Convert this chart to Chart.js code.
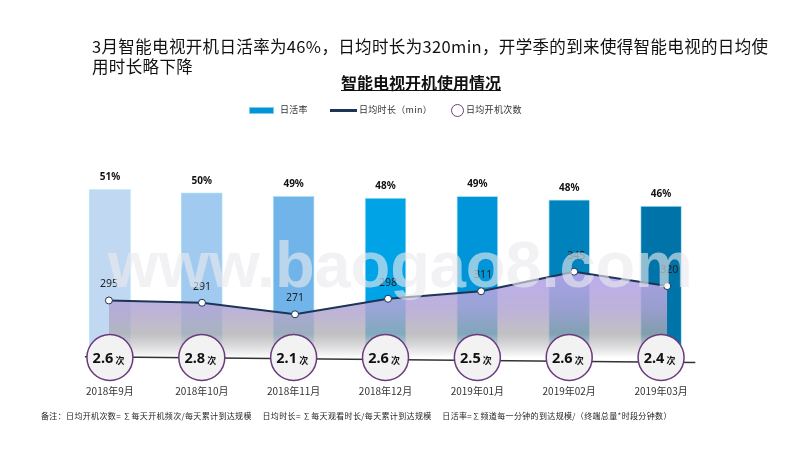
<!DOCTYPE html>
<html lang="zh">
<head>
<meta charset="utf-8">
<title>智能电视开机使用情况</title>
<script src="https://cdn.jsdelivr.net/npm/chart.js@4/dist/chart.umd.min.js"></script>
<style>
    html, body { margin: 0; padding: 0; background: #fff; }
    body { width: 800px; height: 450px; overflow: hidden; position: relative; font-family: "Noto Sans CJK SC", sans-serif; color: #111; }
    canvas { position: absolute; left: 0; top: 0; }
    .headline { position: absolute; left: 92px; top: 36px; width: 685px; font-size: 16.5px; line-height: 20px; letter-spacing: 0.35px; }
    .title { position: absolute; left: 321px; top: 71px; width: 200px; text-align: center; font-size: 16px; line-height: 22px; font-weight: 700; text-decoration: underline; }
    .legend span { position: absolute; top: 104px; font-size: 9px; line-height: 12px; color: #333; letter-spacing: 0.3px; white-space: nowrap; }
    .legend i { position: absolute; display: block; box-sizing: border-box; }
    .note { position: absolute; left: 41px; top: 410px; font-size: 8px; line-height: 11px; letter-spacing: 0.35px; color: #222; white-space: pre; }
    .mark { position: absolute; left: 108px; top: 228px; font: 700 65px "Liberation Sans", sans-serif; line-height: 74px; letter-spacing: -0.1px; color: rgba(234, 234, 238, 0.62); white-space: nowrap; }
</style>
</head>
<body>
<canvas id="tvChart" width="800" height="450"></canvas>
<div class="headline">3月智能电视开机日活率为46%，日均时长为320min，开学季的到来使得智能电视的日均使用时长略下降</div>
<div class="title">智能电视开机使用情况</div>
<div class="legend">
    <i style="left:249px;top:107px;width:25px;height:7px;background:#0095d8;border:1px solid #7fcdea"></i>
    <span style="left:280px">日活率</span>
    <i style="left:330px;top:109px;width:27px;height:3px;background:#1b3556"></i>
    <span style="left:359px">日均时长（min）</span>
    <i style="left:451px;top:104px;width:13px;height:13px;border:1.2px solid #6b3a7d;border-radius:50%"></i>
    <span style="left:466px">日均开机次数</span>
</div>
<div class="note">备注：日均开机次数= ∑每天开机频次/每天累计到达规模     日均时长= ∑每天观看时长/每天累计到达规模     日活率=∑频道每一分钟的到达规模/（终端总量*时段分钟数）</div>
<div class="mark">www.baogao8.com</div>
<script>
const months = ['2018年9月', '2018年10月', '2018年11月', '2018年12月', '2019年01月', '2019年02月', '2019年03月'];
const activeRate = [51, 50, 49, 48.4, 49, 47.9, 46];
const duration = [295, 291, 271, 298, 311, 345, 320];
const openCount = ['2.6', '2.8', '2.1', '2.6', '2.5', '2.6', '2.4'];
const barColors = ['#c0d8f1', '#a0caf0', '#70b4ea', '#00a3e6', '#0095d8', '#0082bd', '#0073a8'];

// the line in the original slide is spaced a little wider than the bars
const lineStart = -0.011;
const lineStep = 1.013;

// bubbles all sit on the bar baseline, the count is only written inside them
const bubbleLevel = [0, 0, 0, 0, 0, 0, 0];
const trackX = [-0.272, 6.373];
const trackY = [0.2, -1.5];

const labelsPlugin = {
    id: 'valueLabels',
    afterDatasetsDraw(chart) {
        const ctx = chart.ctx;
        ctx.save();
        ctx.textAlign = 'center';
        ctx.textBaseline = 'middle';

        // 日活率
        ctx.fillStyle = '#111';
        ctx.font = '700 10px "Noto Sans", sans-serif';
        chart.getDatasetMeta(0).data.forEach((bar, i) => {
            ctx.fillText(Math.round(activeRate[i]) + '%', bar.x, bar.y - 12);
        });

        // 日均时长
        ctx.fillStyle = '#222';
        ctx.font = '10.5px "Noto Sans", sans-serif';
        chart.getDatasetMeta(1).data.forEach((pt, i) => {
            ctx.fillText(duration[i], pt.x + (i > 3 ? 2 : 0), pt.y - 16);
        });

        // 开机次数
        chart.getDatasetMeta(3).data.forEach((pt, i) => {
            ctx.fillStyle = '#111';
            ctx.font = '700 14.5px "Noto Sans", sans-serif';
            ctx.fillText(openCount[i], pt.x - 7, pt.y + 1);
            ctx.font = '700 9px "Noto Sans CJK SC", sans-serif';
            ctx.fillText('次', pt.x + 10, pt.y + 3);
        });
        ctx.restore();
    }
};

new Chart(document.getElementById('tvChart'), {
    data: {
        datasets: [{
            type: 'bar',
            label: '日活率',
            data: activeRate.map((v, i) => ({ x: i, y: v })),
            backgroundColor: barColors,
            borderColor: 'rgba(150, 215, 240, 0.8)',
            borderWidth: 1,
            barThickness: 41,
            yAxisID: 'y',
            order: 4
        }, {
            type: 'line',
            label: '日均时长（min）',
            data: duration.map((v, i) => ({ x: lineStart + i * lineStep, y: v })),
            borderColor: '#1b3556',
            borderWidth: 2,
            tension: 0,
            pointRadius: 3.5,
            pointBorderWidth: 1,
            pointBackgroundColor: '#fff',
            pointBorderColor: '#1b3556',
            fill: 'start',
            backgroundColor(context) {
                const area = context.chart.chartArea;
                if (!area) return 'transparent';
                const g = context.chart.ctx.createLinearGradient(0, 272, 0, 358);
                g.addColorStop(0, 'rgba(182, 165, 238, 0.92)');
                g.addColorStop(0.45, 'rgba(178, 165, 210, 0.85)');
                g.addColorStop(0.72, 'rgba(172, 172, 176, 0.75)');
                g.addColorStop(1, 'rgba(255, 255, 255, 1)');
                return g;
            },
            yAxisID: 'y2',
            order: 3
        }, {
            type: 'line',
            label: 'track',
            data: trackX.map((v, i) => ({ x: v, y: trackY[i] })),
            borderColor: '#333',
            borderWidth: 1.5,
            pointRadius: 0,
            clip: false,
            yAxisID: 'y',
            order: 2
        }, {
            type: 'line',
            label: '日均开机次数',
            data: bubbleLevel.map((v, i) => ({ x: i, y: v })),
            showLine: false,
            pointRadius: 23,
            pointBorderWidth: 1.5,
            pointBackgroundColor: '#f2f2f3',
            pointBorderColor: '#6b3a7d',
            clip: false,
            yAxisID: 'y',
            order: 1
        }]
    },
    options: {
        responsive: false,
        animation: false,
        layout: {
            padding: { left: 64, right: 93, top: 160, bottom: 31 }
        },
        plugins: {
            legend: { display: false },
            tooltip: { enabled: false }
        },
        scales: {
            x: {
                type: 'linear',
                offset: false,
                min: -0.5,
                max: 6.5,
                grid: { display: false, drawTicks: false },
                border: { display: false },
                afterBuildTicks(axis) {
                    axis.ticks = months.map((m, i) => ({ value: i }));
                },
                ticks: {
                    color: '#333',
                    font: { size: 10, family: '"Noto Sans CJK SC", sans-serif' },
                    padding: 22,
                    maxRotation: 0,
                    autoSkip: false,
                    callback: value => months[value]
                }
            },
            y: {
                display: false,
                min: -1.67,
                max: 60
            },
            y2: {
                display: false,
                min: 186.4,
                max: 539
            }
        }
    },
    plugins: [labelsPlugin]
});
</script>
</body>
</html>
